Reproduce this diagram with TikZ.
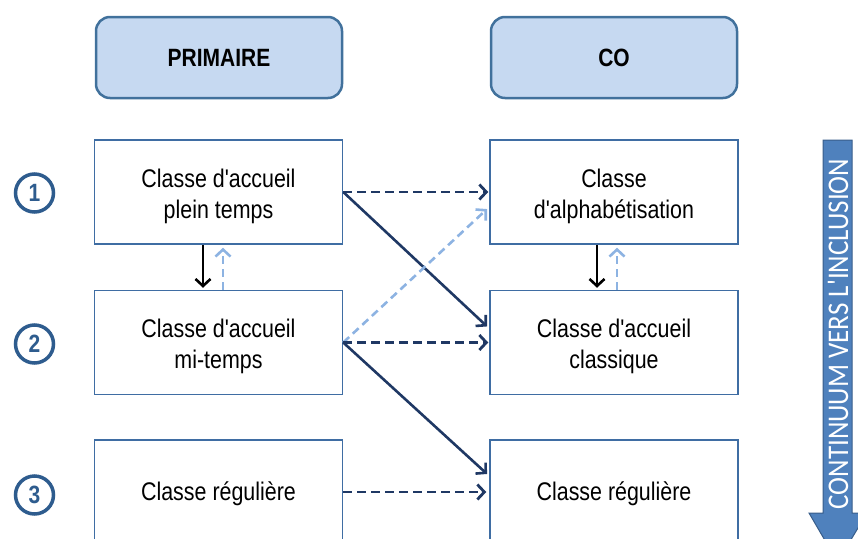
\documentclass[tikz,border=0pt]{standalone}
\usepackage{fontspec}
\setmainfont{Liberation Sans}
\newfontfamily\boxfont[FakeStretch=0.84]{Liberation Sans}
\newfontfamily\calib[FakeStretch=0.9]{Carlito}
\usetikzlibrary{arrows.meta,calc}
\definecolor{hdrfill}{HTML}{C6D9F1}
\definecolor{hdrline}{HTML}{41719C}
\definecolor{boxline}{HTML}{3F6DA3}
\definecolor{navy}{HTML}{1F3864}
\definecolor{lightb}{HTML}{8DB3E2}
\definecolor{arrfill}{HTML}{4F81BD}
\definecolor{arrline}{HTML}{385D8A}
\definecolor{circ}{HTML}{2E5C8E}
\begin{document}
\begin{tikzpicture}[x=1pt,y=-1pt,
  hdr/.style={draw=hdrline, fill=hdrfill, line width=2.5pt, rounded corners=14pt,
    minimum width=246pt, minimum height=81pt, inner sep=0pt,
    font=\boxfont\fontsize{25}{28}\selectfont\bfseries},
  cbox/.style={draw=boxline, fill=white, line width=1.5pt, minimum width=248pt,
    minimum height=104pt, inner sep=0pt},
  btext/.style={inner sep=0pt, align=center, font=\boxfont\fontsize{25.5}{31}\selectfont},
  num/.style={circle, draw=circ, line width=3.5pt, minimum size=38pt, inner sep=0pt,
    text=circ, font=\boxfont\fontsize{25}{26}\selectfont\bfseries},
  tipb/.style={-{Straight Barb[length=7pt,width=15pt]}},
  darkdash/.style={tipb, draw=navy, line width=2.8pt, dash pattern=on 9pt off 5pt},
  darksolid/.style={tipb, draw=navy, line width=2.6pt},
  lightdash/.style={tipb, draw=lightb, line width=2.6pt, dash pattern=on 8pt off 5pt},
  blacksolid/.style={tipb, draw=black, line width=2.6pt},
]
\useasboundingbox (0,0) rectangle (858,538);
\clip (0,0) rectangle (858,538);

% headers
\node[hdr] (H1) at (219,57.5) {PRIMAIRE};
\node[hdr] (H2) at (614,57.5) {CO};

% boxes
\node[cbox] (L1) at (218.5,192) {};
\node[cbox] (L2) at (218.5,342.5) {};
\node[cbox] (L3) at (218.5,492) {};
\node[cbox] (R1) at (614,192) {};
\node[cbox] (R2) at (614,342.5) {};
\node[cbox] (R3) at (614,492) {};
\node[btext] (L1t) at ($(L1.center)+(0,4)$) {Classe d'accueil\\plein temps};
\node[btext] (L2t) at ($(L2.center)+(0,4)$) {Classe d'accueil\\mi-temps};
\node[btext] (L3t) at ($(L3.center)+(0,2)$) {Classe régulière};
\node[btext] (R1t) at ($(R1.center)+(0,4)$) {Classe\\d'alphabétisation};
\node[btext] (R2t) at ($(R2.center)+(0,4)$) {Classe d'accueil\\classique};
\node[btext] (R3t) at ($(R3.center)+(0,2)$) {Classe régulière};

% numbers
\node[num] (N1) at (34.5,193) {1};
\node[num] (N2) at (34.5,344) {2};
\node[num] (N3) at (34.5,495) {3};

% horizontal / diagonal connectors
\draw[darkdash, shorten >=1pt] (L1.east) -- (R1.west);
\draw[darksolid, shorten >=3pt] (L1.east) -- ($(R2.west)+(0,-14)$);
\draw[lightdash, shorten >=3pt] (L2.east) -- ($(R1.west)+(0,15)$);
\draw[darkdash, shorten >=1pt] (L2.east) -- (R2.west);
\draw[darksolid, shorten >=3pt] (L2.east) -- ($(R3.west)+(0,-16)$);
\draw[darkdash, shorten >=3pt] (L3.east) -- (R3.west);

% vertical connectors
\draw[blacksolid, shorten >=2pt] ($(L1.south)+(-15.5,0)$) -- ($(L2.north)+(-15.5,0)$);
\draw[lightdash, shorten >=3pt] ($(L2.north)+(4.5,0)$) -- ($(L1.south)+(4.5,0)$);
\draw[blacksolid, shorten >=2pt] ($(R1.south)+(-17,0)$) -- ($(R2.north)+(-17,0)$);
\draw[lightdash, shorten >=3pt] ($(R2.north)+(3,0)$) -- ($(R1.south)+(3,0)$);

% big arrow
\draw[draw=arrline, fill=arrfill, line width=1pt]
  (823,140) -- (852,140) -- (852,513) -- (867,513) -- (837.5,562) -- (809,513) -- (823,513) -- cycle;
\node[rotate=90, text=white, font=\calib\fontsize{30}{32}\selectfont, inner sep=0pt] (T) at (838,334)
  {CONTINUUM VERS L'INCLUSION};
\end{tikzpicture}
\end{document}
